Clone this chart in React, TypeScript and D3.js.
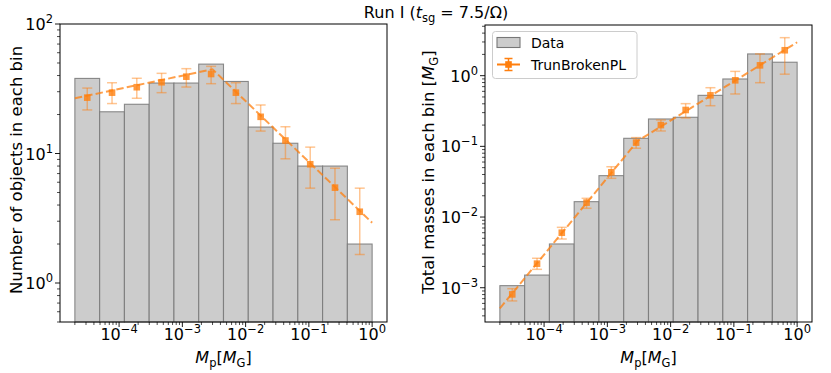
import React from "react";
import * as d3 from "d3";

// ---- data ----
const binEdges = [2.0e-5, 4.93e-5, 1.214e-4, 2.99e-4, 7.37e-4, 1.815e-3, 4.47e-3, 0.01102, 0.02714, 0.0669, 0.1648, 0.406, 1.0];

const countData = [38, 21, 24, 35, 35, 49, 36, 16, 12, 8, 8, 2];
const countModel = [27, 29.5, 32.5, 35.5, 39.2, 41.1, 29.5, 19.2, 12.6, 8.26, 5.45, 3.55];
const countHi = [32.0, 35.2, 38.1, 41.6, 45.2, 47.1, 35.2, 23.7, 16.1, 11.2, 7.7, 5.4];
const countLo = [21.7, 24.3, 26.7, 29.5, 32.6, 34.6, 24.3, 14.9, 9.1, 5.4, 3.08, 1.66];
const countLineX = [2.0e-5, 3.0e-3, 1.0];
const countLineY = [26.7, 44.7, 2.92];

const massData = [1.07e-3, 1.51e-3, 4.16e-3, 0.0165, 0.0385, 0.13, 0.244, 0.258, 0.527, 0.898, 2.03, 1.55];
const massModel = [8.05e-4, 2.19e-3, 6.0e-3, 0.016, 0.043, 0.113, 0.2, 0.327, 0.527, 0.86, 1.4, 2.29];
const massHi = [9.7e-4, 2.61e-3, 7.15e-3, 0.0184, 0.0515, 0.133, 0.236, 0.402, 0.676, 1.15, 2.03, 3.45];
const massLo = [6.5e-4, 1.82e-3, 4.89e-3, 0.0133, 0.0353, 0.094, 0.165, 0.252, 0.376, 0.551, 0.796, 1.05];
const massLineX = [2.0e-5, 3.0e-3, 1.0];
const massLineY = [5.1e-4, 0.119, 2.97];

const xTicks = [1e-4, 1e-3, 1e-2, 1e-1, 1];
const xTickExp = ["−4", "−3", "−2", "−1", "0"];
const leftYTicks = [1, 10, 100];
const leftYExp = ["0", "1", "2"];
const rightYTicks = [1e-3, 1e-2, 1e-1, 1];
const rightYExp = ["−3", "−2", "−1", "0"];

const FONT = "DejaVu Sans";
const ORANGE = "#ff7f0e";

function minorTicks(lo: number, hi: number) {
  const out: number[] = [];
  for (let e = Math.floor(Math.log10(lo)); e <= Math.ceil(Math.log10(hi)); e++) {
    for (let m = 2; m <= 9; m++) {
      const v = m * Math.pow(10, e);
      if (v >= lo && v <= hi) out.push(v);
    }
  }
  return out;
}

type PanelProps = {
  x0: number; x1: number; y0: number; y1: number;
  yDomain: [number, number];
  data: number[]; model: number[]; hi: number[]; lo: number[];
  lineX: number[]; lineY: number[];
  yTicks: number[]; yExp: string[];
};

function Panel(p: PanelProps) {
  const xDomain: [number, number] = [Math.pow(10, -4.699 - 0.235), Math.pow(10, 0.235)];
  const x = d3.scaleLog().domain(xDomain).range([p.x0, p.x1]);
  const y = d3.scaleLog().domain(p.yDomain).range([p.y1, p.y0]);
  const centers = binEdges.slice(0, -1).map((e, i) => Math.sqrt(e * binEdges[i + 1]));
  const line = d3.line<number>().x((_, i) => x(p.lineX[i])).y((v) => y(v));
  const xMinor = minorTicks(xDomain[0], xDomain[1]);
  const yMinor = minorTicks(p.yDomain[0], p.yDomain[1]);
  return (
    <g>
      {p.data.map((v, i) => (
        <rect key={"b" + i} x={x(binEdges[i])} y={y(v)} width={x(binEdges[i + 1]) - x(binEdges[i])}
          height={p.y1 - y(v)} fill="#cccccc" stroke="#777" strokeOpacity={0.85} strokeWidth={1.1} />
      ))}
      <path d={line(p.lineY) || ""} fill="none" stroke={ORANGE} strokeOpacity={0.75} strokeWidth={2} strokeDasharray="7.4,3.2" />
      {centers.map((c, i) => (
        <g key={"e" + i} stroke={ORANGE} strokeOpacity={0.45} strokeWidth={1.5}>
          <line x1={x(c)} x2={x(c)} y1={y(p.hi[i])} y2={y(p.lo[i])} />
          <line x1={x(c) - 5} x2={x(c) + 5} y1={y(p.hi[i])} y2={y(p.hi[i])} />
          <line x1={x(c) - 5} x2={x(c) + 5} y1={y(p.lo[i])} y2={y(p.lo[i])} />
        </g>
      ))}
      {centers.map((c, i) => (
        <rect key={"m" + i} x={x(c) - 3.3} y={y(p.model[i]) - 3.3} width={6.6} height={6.6} fill={ORANGE} fillOpacity={0.8} />
      ))}
      <rect x={p.x0} y={p.y0} width={p.x1 - p.x0} height={p.y1 - p.y0} fill="none" stroke="#000" strokeWidth={1} />
      {xTicks.map((t, i) => (
        <g key={"xt" + i}>
          <line x1={x(t)} x2={x(t)} y1={p.y1} y2={p.y1 + 5} stroke="#000" strokeWidth={0.9} />
          <text x={x(t)} y={p.y1 + 18} textAnchor="middle" fontFamily={FONT} fontSize={16}>
            10<tspan fontSize={11.5} dy={-7}>{xTickExp[i]}</tspan>
          </text>
        </g>
      ))}
      {xMinor.map((t, i) => (
        <line key={"xm" + i} x1={x(t)} x2={x(t)} y1={p.y1} y2={p.y1 + 3} stroke="#000" strokeWidth={0.7} />
      ))}
      {p.yTicks.map((t, i) => (
        <g key={"yt" + i}>
          <line x1={p.x0 - 5} x2={p.x0} y1={y(t)} y2={y(t)} stroke="#000" strokeWidth={0.9} />
          <text x={p.x0 - 7} y={y(t) + 6} textAnchor="end" fontFamily={FONT} fontSize={16}>
            10<tspan fontSize={11.5} dy={-7}>{p.yExp[i]}</tspan>
          </text>
        </g>
      ))}
      {yMinor.map((t, i) => (
        <line key={"ym" + i} x1={p.x0 - 3} x2={p.x0} y1={y(t)} y2={y(t)} stroke="#000" strokeWidth={0.7} />
      ))}
      <text x={(p.x0 + p.x1) / 2} y={363} textAnchor="middle" fontFamily={FONT} fontSize={16}>
        <tspan fontStyle="italic">M</tspan><tspan fontSize={11.5} dy={4}>p</tspan><tspan dy={-4}>[</tspan>
        <tspan fontStyle="italic">M</tspan><tspan fontSize={11.5} dy={4}>G</tspan><tspan dy={-4}>]</tspan>
      </text>
    </g>
  );
}

export default function App() {
  return (
    <svg width={831} height={373} style={{ display: "block", position: "absolute", left: 0, top: 0 }}>
      <rect width={831} height={373} fill="#fff" />
      <text x={436} y={18} textAnchor="middle" fontFamily={FONT} fontSize={16}>
        Run I (<tspan fontStyle="italic">t</tspan><tspan fontSize={11.5} dy={4}>sg</tspan><tspan dy={-4}> = 7.5/Ω)</tspan>
      </text>
      <Panel x0={60} x1={387} y0={24} y1={322} yDomain={[0.5, 100]}
        data={countData} model={countModel} hi={countHi} lo={countLo}
        lineX={countLineX} lineY={countLineY} yTicks={leftYTicks} yExp={leftYExp} />
      <Panel x0={485} x1={812} y0={25} y1={322} yDomain={[Math.pow(10, -3.485), Math.pow(10, 0.717)]}
        data={massData} model={massModel} hi={massHi} lo={massLo}
        lineX={massLineX} lineY={massLineY} yTicks={rightYTicks} yExp={rightYExp} />
      <text transform="translate(22,170) rotate(-90)" textAnchor="middle" fontFamily={FONT} fontSize={16.5}>
        Number of objects in each bin
      </text>
      <text transform="translate(434,172) rotate(-90)" textAnchor="middle" fontFamily={FONT} fontSize={16.5}>
        Total masses in each bin [<tspan fontStyle="italic">M</tspan><tspan fontSize={11.5} dy={4}>G</tspan><tspan dy={-4}>]</tspan>
      </text>
      {/* legend */}
      <g>
        <rect x={492.5} y={31.5} width={144.5} height={47} rx={3} fill="#fff" fillOpacity={0.8} stroke="#cccccc" />
        <rect x={497} y={37.5} width={23} height={10} fill="#cccccc" stroke="#777" strokeWidth={1.1} />
        <text x={531} y={47.5} fontFamily={FONT} fontSize={14}>Data</text>
        <line x1={497} x2={520} y1={64.5} y2={64.5} stroke={ORANGE} strokeWidth={2} />
        <line x1={508.5} x2={508.5} y1={58.5} y2={70.5} stroke={ORANGE} strokeWidth={1.5} />
        <line x1={504.5} x2={512.5} y1={58.5} y2={58.5} stroke={ORANGE} strokeWidth={1.5} />
        <line x1={504.5} x2={512.5} y1={70.5} y2={70.5} stroke={ORANGE} strokeWidth={1.5} />
        <rect x={505.2} y={61.2} width={6.6} height={6.6} fill={ORANGE} />
        <text x={531} y={69.5} fontFamily={FONT} fontSize={14}>TrunBrokenPL</text>
      </g>
    </svg>
  );
}
